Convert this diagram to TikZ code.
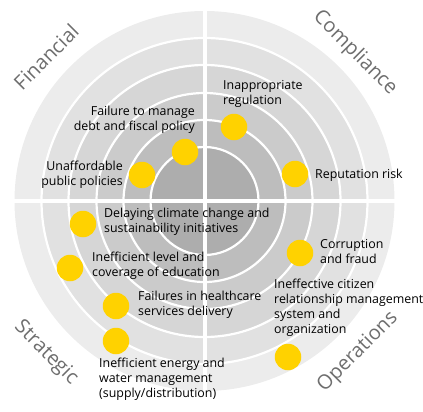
\documentclass[tikz,border=0pt]{standalone}
\usepackage{fontspec}
\setmainfont{Open Sans}
\usetikzlibrary{positioning}

\definecolor{ringA}{HTML}{ECECEC}
\definecolor{ringB}{HTML}{E1E1E1}
\definecolor{ringC}{HTML}{D6D6D6}
\definecolor{ringD}{HTML}{CBCBCB}
\definecolor{ringE}{HTML}{BDBDBD}
\definecolor{ringF}{HTML}{ADADAD}
\definecolor{eyyellow}{HTML}{FFD200}
\definecolor{labelgrey}{HTML}{6E6E6E}

\tikzset{
  riskdot/.style={shape=circle,fill=eyyellow,minimum size=26.5pt,inner sep=0pt},
  risktext/.style={inner sep=0pt,font=\fontsize{12.4}{15}\selectfont,text=black},
  quadrant/.style={inner sep=0pt,font=\fontsize{20}{20}\selectfont,text=labelgrey},
}

\begin{document}
\begin{tikzpicture}[x=1pt,y=-1pt]
  \useasboundingbox (0,0) rectangle (423,412);
  \coordinate (O) at (204.5,201);

  % rings, outside in
  \fill[ringA] (O) circle (190);
  \foreach \r/\c in {163/ringB, 136/ringC, 108/ringD, 81/ringE, 54/ringF} {
    \fill[\c] (O) circle (\r);
    \draw[white,line width=2.2pt] (O) circle (\r);
  }

  % quadrant cross
  \draw[white,line width=4pt] (204.5,5) -- (204.5,397);
  \draw[white,line width=4pt] (8,201) -- (401,201);

  % quadrant names
  \node[quadrant,rotate=45]  (fin) at (46,57)   {Financial};
  \node[quadrant,rotate=-45] (com) at (355,53)  {Compliance};
  \node[quadrant,rotate=-45] (str) at (46,353)  {Strategic};
  \node[quadrant,rotate=45]  (ops) at (358,352) {Operations};

  % risks
  \node[riskdot] (debt) at (185,152) {};
  \node[risktext,anchor=east,align=right] (debtT) at (195,120) {Failure to manage\\debt and fiscal policy};

  \node[riskdot] (unaff) at (142,175) {};
  \node[risktext,anchor=east,align=right] (unaffT) at (123,175) {Unaffordable\\public policies};

  \node[riskdot] (regul) at (234,127) {};
  \node[risktext,anchor=west,align=left] (regulT) at (223,93.5) {Inappropriate\\regulation};

  \node[riskdot] (reput) at (295,174) {};
  \node[risktext,anchor=west] (reputT) at (315,175) {Reputation risk};

  \node[riskdot] (climate) at (83,224) {};
  \node[risktext,anchor=west,align=left] (climateT) at (104,221.5) {Delaying climate change and\\sustainability initiatives};

  \node[riskdot] (educ) at (70,268) {};
  \node[risktext,anchor=west,align=left] (educT) at (92,265.5) {Inefficient level and\\coverage of education};

  \node[riskdot] (health) at (116,306) {};
  \node[risktext,anchor=west,align=left] (healthT) at (138,304.5) {Failures in healthcare\\services delivery};

  \node[riskdot] (energy) at (116,341) {};
  \node[risktext,anchor=west,align=left] (energyT) at (99,379) {Inefficient energy and\\water management\\(supply/distribution)};

  \node[riskdot] (fraud) at (300,253) {};
  \node[risktext,anchor=west,align=left] (fraudT) at (320,252) {Corruption\\and fraud};

  \node[riskdot] (citizen) at (288,357) {};
  \node[risktext,anchor=west,align=left] (citizenT) at (274,307.5) {Ineffective citizen\\relationship management\\system and\\organization};
\end{tikzpicture}
\end{document}
